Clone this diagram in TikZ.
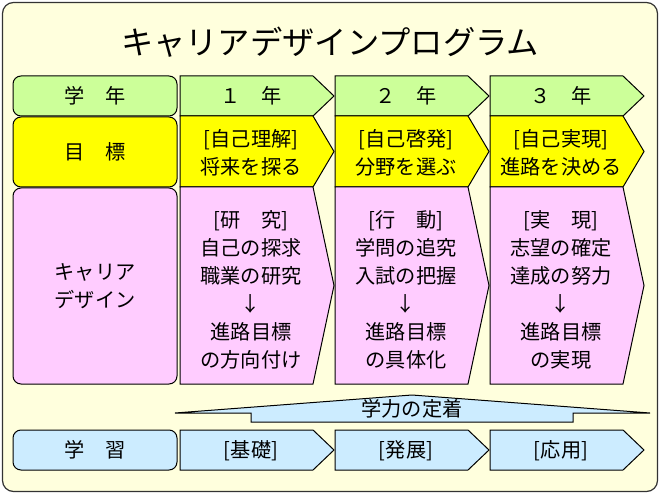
\documentclass[tikz,border=0pt]{standalone}
\usepackage{fontspec}
\setmainfont{Noto Sans CJK JP}
\usepackage{tikz}
\usetikzlibrary{positioning}
\definecolor{paper}{RGB}{255,255,221}
\definecolor{yeargreen}{RGB}{204,255,153}
\definecolor{goalyellow}{RGB}{255,255,0}
\definecolor{designpink}{RGB}{255,204,255}
\definecolor{studyblue}{RGB}{204,236,255}
\tikzset{
  frame/.style={draw=black!80,line width=1.2pt,fill=paper,rounded corners=11pt},
  headbox/.style={rectangle,rounded corners=8pt,draw=black,line width=1pt,
                  minimum width=164pt,align=center,font=\fontsize{20.2}{28}\selectfont},
  chevline/.style={draw=black,line width=1pt,line join=miter},
  lbl/.style={align=center,font=\fontsize{20.2}{28}\selectfont,inner sep=0pt},
}
% chevron: left x, top y, bottom y, fill
\newcommand{\chevron}[4]{%
  \filldraw[chevline,fill=#4] (#1,#2) -- (#1+133,#2) -- (#1+154,{(#2+#3)/2})
    -- (#1+133,#3) -- (#1,#3) -- cycle;}

\begin{document}
\begin{tikzpicture}[x=1pt,y=-1pt]
  \useasboundingbox (0,0) rectangle (660,494);
  \draw[frame] (2.5,2.5) rectangle (657.5,491.5);
  \node[font=\fontsize{32.3}{36}\selectfont] (title) at (330,42) {キャリアデザインプログラム};

  % left column
  \node[headbox,fill=yeargreen,minimum height=40pt] (lyear) at (95,96) {学　年};
  \node[headbox,fill=goalyellow,minimum height=70pt] (lgoal) at (95,152) {目　標};
  \node[headbox,fill=designpink,minimum height=196pt] (ldesign) at (95,286) {キャリア\\デザイン};
  \node[headbox,fill=studyblue,minimum height=40pt] (lstudy) at (95,450) {学　習};

  % grade columns
  \foreach \cx/\yr/\goal/\design/\study [count=\i] in {
      180/{１　年}/{[自己理解]\\将来を探る}/{[研　究]\\自己の探求\\職業の研究\\↓\\進路目標\\の方向付け}/{[基礎]},
      335/{２　年}/{[自己啓発]\\分野を選ぶ}/{[行　動]\\学問の追究\\入試の把握\\↓\\進路目標\\の具体化}/{[発展]},
      490/{３　年}/{[自己実現]\\進路を決める}/{[実　現]\\志望の確定\\達成の努力\\↓\\進路目標\\の実現}/{[応用]}} {
    \chevron{\cx}{76}{116}{yeargreen}
    \chevron{\cx}{116}{187}{goalyellow}
    \chevron{\cx}{187}{384}{designpink}
    \chevron{\cx}{430}{470}{studyblue}
    \node[lbl] (yr\i) at (\cx+71,96) {\yr};
    \node[lbl] (gl\i) at (\cx+71,153) {\goal};
    \node[lbl] (ds\i) at (\cx+71,290) {\design};
    \node[lbl] (st\i) at (\cx+71,451) {\study};
  }

  % growth band
  \filldraw[chevline,fill=studyblue] (175,413) -- (412,395) -- (650,413) -- (573,413)
    -- (573,422) -- (251,422) -- (251,413) -- cycle;
  \node[lbl] (grow) at (412,409) {学力の定着};
\end{tikzpicture}
\end{document}
